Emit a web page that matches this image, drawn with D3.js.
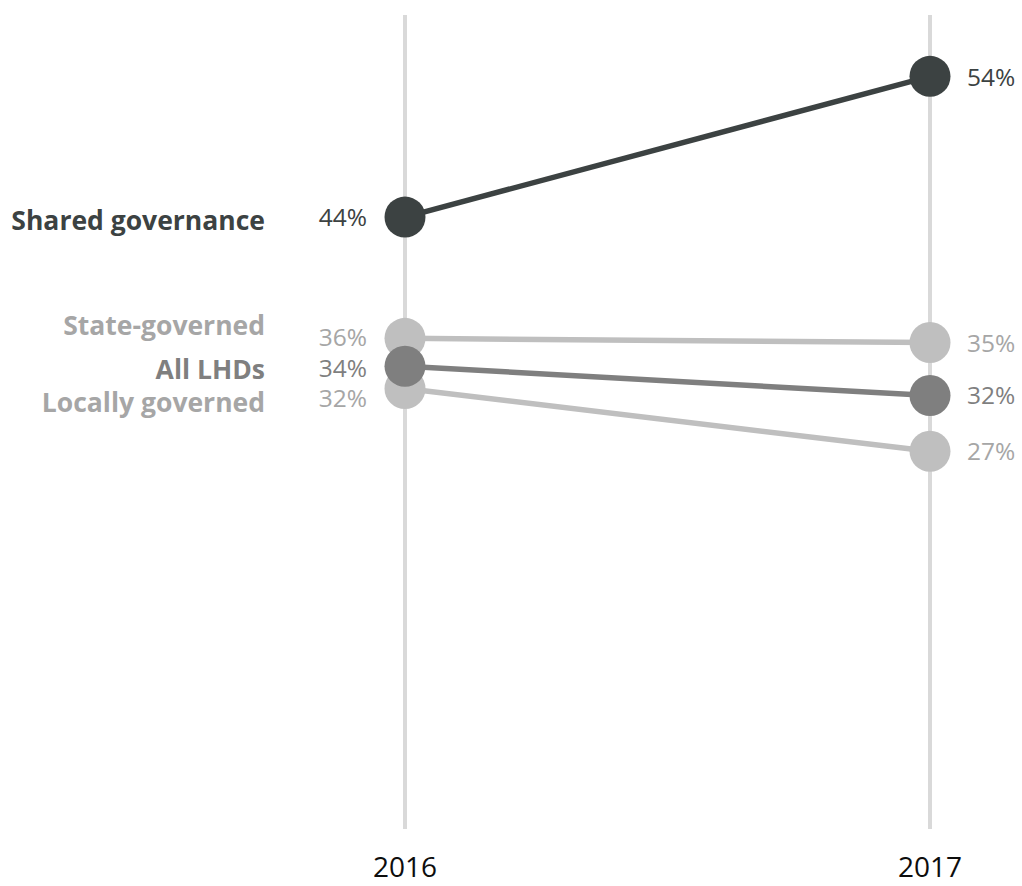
<!DOCTYPE html>
<html>
<head>
<meta charset="utf-8">
<script src="https://cdn.jsdelivr.net/npm/d3@7"></script>
<style>
  html, body { margin: 0; padding: 0; background: #ffffff; }
  svg { display: block; }
  text { font-family: "Open Sans", "Noto Sans", sans-serif; }
</style>
</head>
<body>
<svg id="chart" width="1022" height="886"></svg>
<script>
// ---- data ----
const years = ["2016", "2017"];
const seriesNames = ["Shared governance", "State-governed", "All LHDs", "Locally governed"];
const values2016 = [43.9, 35.2, 33.2, 31.6];
const values2017 = [54.0, 34.9, 31.1, 27.1];
const labels2016 = ["44%", "36%", "34%", "32%"];
const labels2017 = ["54%", "35%", "32%", "27%"];
const yDomainMax = 58.4;

// ---- styles (kept separate from data) ----
const lineColor = ["#3c4242", "#bfbfbf", "#7f7f7f", "#bfbfbf"];
const textColor = ["#3c4242", "#a6a6a6", "#7f7f7f", "#a6a6a6"];
const drawOrder = [1, 3, 2, 0];
const nameNudge = [3, -13, 3, 14];      // vertical nudges for category labels
const lab16Nudge = [0, -1, 2, 10];      // vertical nudges for 2016 value labels
const lab17Nudge = [1, 1, 0, 0];

const svg = d3.select("#chart");

const x = d3.scalePoint().domain(years).range([405, 930]);
const y = d3.scaleLinear().domain([0, yDomainMax]).range([829, 15]);

const rows = seriesNames.map((name, i) => ({
  i, name,
  v: [values2016[i], values2017[i]],
  l: [labels2016[i], labels2017[i]]
}));

// vertical year guides
svg.append("g").selectAll("line").data(years).join("line")
  .attr("x1", d => x(d)).attr("x2", d => x(d))
  .attr("y1", y.range()[0]).attr("y2", y.range()[1])
  .attr("stroke", "#d9d9d9").attr("stroke-width", 4);

// year labels
svg.append("g").selectAll("text").data(years).join("text")
  .attr("x", d => x(d)).attr("y", 877)
  .attr("text-anchor", "middle")
  .attr("font-size", 28)
  .attr("fill", "#0d0d0d")
  .text(d => d);

const ordered = drawOrder.map(i => rows[i]);

// slope lines
const lineGen = d3.line().x((d, j) => x(years[j])).y(d => y(d));
svg.append("g").selectAll("path").data(ordered).join("path")
  .attr("d", d => lineGen(d.v))
  .attr("fill", "none")
  .attr("stroke", d => lineColor[d.i])
  .attr("stroke-width", 5.5);

// circles
const gc = svg.append("g");
ordered.forEach(d => {
  gc.selectAll(null).data(d.v).join("circle")
    .attr("cx", (v, j) => x(years[j]))
    .attr("cy", v => y(v))
    .attr("r", 20.5)
    .attr("fill", lineColor[d.i]);
});

// value labels 2016
svg.append("g").selectAll("text").data(rows).join("text")
  .attr("x", x(years[0]) - 38)
  .attr("y", d => y(d.v[0]) + lab16Nudge[d.i])
  .attr("dy", "0.36em")
  .attr("text-anchor", "end")
  .attr("font-size", 24.5)
  .attr("fill", d => textColor[d.i])
  .text(d => d.l[0]);

// value labels 2017
svg.append("g").selectAll("text").data(rows).join("text")
  .attr("x", x(years[1]) + 37)
  .attr("y", d => y(d.v[1]) + lab17Nudge[d.i])
  .attr("dy", "0.36em")
  .attr("text-anchor", "start")
  .attr("font-size", 24.5)
  .attr("fill", d => textColor[d.i])
  .text(d => d.l[1]);

// category labels
svg.append("g").selectAll("text").data(rows).join("text")
  .attr("x", 265)
  .attr("y", d => y(d.v[0]) + nameNudge[d.i])
  .attr("dy", "0.36em")
  .attr("text-anchor", "end")
  .attr("font-size", 26.5)
  .attr("font-weight", 700)
  .attr("fill", d => textColor[d.i])
  .text(d => d.name);
</script>
</body>
</html>
